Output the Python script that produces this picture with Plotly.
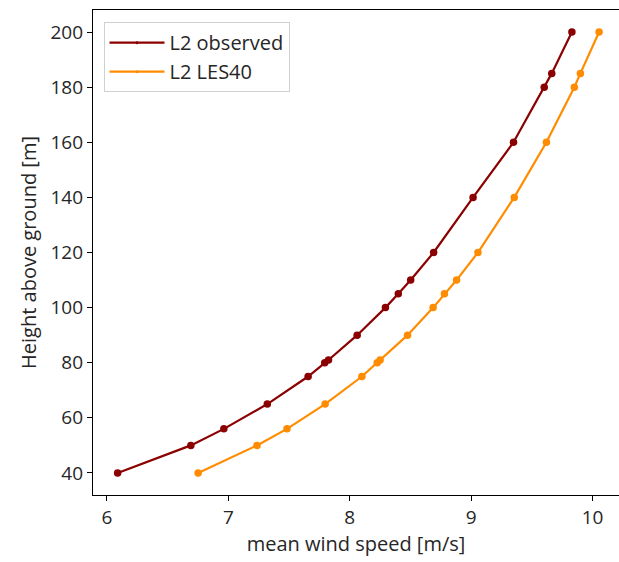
import plotly.graph_objects as go

height_obs = [40, 50, 56, 65, 75, 80, 81, 90, 100, 105, 110, 120, 140, 160, 180, 185, 200]
speed_obs = [6.088, 6.691, 6.963, 7.321, 7.657, 7.794, 7.825, 8.061, 8.294, 8.400, 8.502, 8.691, 9.016, 9.349, 9.602, 9.664, 9.830]

height_les = [40, 50, 56, 65, 75, 80, 81, 90, 100, 105, 110, 120, 140, 160, 180, 185, 200]
speed_les = [6.751, 7.236, 7.483, 7.797, 8.10, 8.226, 8.25, 8.476, 8.687, 8.78, 8.88, 9.056, 9.355, 9.62, 9.85, 9.90, 10.054]

series_names = ["L2 observed", "L2 LES40"]
series_colors = ["#8B0000", "#FF8C00"]

xticks = [6, 7, 8, 9, 10]
yticks = [40, 60, 80, 100, 120, 140, 160, 180, 200]

FONT = "Open Sans, sans-serif"
TXT = "#262626"

fig = go.Figure()
for xs, ys, name, col in [(speed_obs, height_obs, series_names[0], series_colors[0]),
                          (speed_les, height_les, series_names[1], series_colors[1])]:
    fig.add_trace(go.Scatter(x=xs, y=ys, mode="lines+markers", name=name, showlegend=False,
                             line=dict(color=col, width=2.2), marker=dict(size=7.5, color=col)))
# legend entries (thin line with tiny marker, as in the original)
for name, col in zip(series_names, series_colors):
    fig.add_trace(go.Scatter(x=[None], y=[None], mode="lines+markers", name=name,
                             line=dict(color=col, width=2.2), marker=dict(size=3, color=col)))

axis_common = dict(showline=True, linecolor="black", linewidth=1.2, ticks="outside",
                   ticklen=5, tickcolor="black", showgrid=False, zeroline=False, automargin=False,
                   tickfont=dict(size=19, color=TXT, family=FONT))

fig.update_xaxes(range=[5.885, 10.218], tickvals=xticks, mirror=True,
                 title=dict(text="mean wind speed [m/s]", font=dict(size=20, color=TXT, family=FONT), standoff=6),
                 **axis_common)
fig.update_yaxes(range=[32, 208], tickvals=yticks, mirror=False,
                 title=dict(text="Height above ground [m]", font=dict(size=20, color=TXT, family=FONT), standoff=8),
                 **axis_common)

fig.update_layout(width=619, height=562, margin=dict(l=93, r=0, t=10, b=67, autoexpand=False),
                  plot_bgcolor="white", paper_bgcolor="white",
                  font=dict(family=FONT, color=TXT),
                  legend=dict(x=0.02, y=0.975, xanchor="left", yanchor="top",
                              bgcolor="rgba(255,255,255,0.8)", bordercolor="#d0d0d0", borderwidth=1,
                              font=dict(size=20, color=TXT, family=FONT), itemsizing="trace",
                              itemwidth=55, tracegroupgap=0))

fig.write_html("out.html")
